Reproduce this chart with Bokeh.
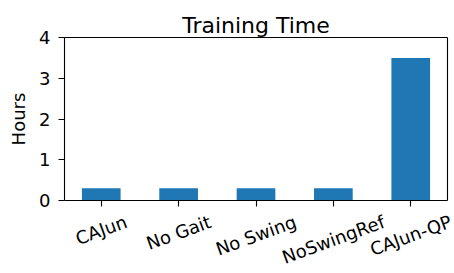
import math
from bokeh.plotting import figure
from bokeh.models import Range1d, FixedTicker, ColumnDataSource, LabelSet, Label, LinearAxis
from bokeh.core.properties import value
from bokeh.embed import file_html
from bokeh.resources import INLINE

# ---- data ----
categories = ["CAJun", "No Gait", "No Swing", "NoSwingRef", "CAJun-QP"]
hours = [0.3, 0.3, 0.3, 0.3, 3.5]
y_ticks = [0, 1, 2, 3, 4]
title_text = "Training Time"
y_label = "Hours"

# ---- style / layout ----
FONT = "DejaVu Sans"
TICK_FS = 18
TITLE_FS = 22
BAR_COLOR = "#1f77b4"
ANGLE_DEG = 20
LW = 1.1
W, H = 454, 272
BOX_L, BOX_R, BOX_T, BOX_B = 64, 447, 37, 200   # axes box in page pixels
XLIM = (-0.475, len(categories) - 1 + 0.475)
YLIM = (0, 4)

ppx = (BOX_R - BOX_L) / (XLIM[1] - XLIM[0])
ppy = (BOX_B - BOX_T) / (YLIM[1] - YLIM[0])
x_range = Range1d(XLIM[0] - BOX_L / ppx, XLIM[0] + (W - BOX_L) / ppx)
y_range = Range1d(YLIM[0] - (H - BOX_B) / ppy, YLIM[1] + BOX_T / ppy)

# approximate DejaVu Sans advance widths (em) for matplotlib-like label centering
EM = {"C": 0.698, "A": 0.684, "J": 0.295, "u": 0.634, "n": 0.634, " ": 0.318,
      "N": 0.748, "o": 0.612, "G": 0.775, "a": 0.613, "i": 0.278, "t": 0.392,
      "S": 0.635, "w": 0.818, "g": 0.635, "R": 0.695, "e": 0.615, "f": 0.352,
      "-": 0.361, "Q": 0.787, "P": 0.603}

xs = list(range(len(categories)))

p = figure(width=W, height=H, output_backend="svg", toolbar_location=None,
           x_range=x_range, y_range=y_range, title=None,
           min_border_left=0, min_border_right=0, min_border_top=0, min_border_bottom=0)
p.outline_line_color = None
p.grid.visible = False

p.vbar(x=xs, top=hours, width=0.5, color=BAR_COLOR, line_color=None)

# left spine + y ticks
ya = p.yaxis[0]
ya.fixed_location = XLIM[0]
ya.bounds = YLIM
ya.ticker = FixedTicker(ticks=y_ticks)
ya.axis_line_width = LW
ya.major_tick_line_width = LW
ya.major_tick_out = 6
ya.major_tick_in = 0
ya.minor_tick_line_color = None
ya.major_label_text_font = FONT
ya.major_label_text_font_size = f"{TICK_FS}px"
ya.major_label_text_color = "black"
ya.major_label_standoff = 8
ya.axis_label = y_label
ya.axis_label_text_font = FONT
ya.axis_label_text_font_size = f"{TICK_FS}px"
ya.axis_label_text_font_style = "normal"
ya.axis_label_text_color = "black"
ya.axis_label_standoff = 7

# bottom spine + x ticks (tick marks only; labels drawn centered below)
xa = p.xaxis[0]
xa.fixed_location = YLIM[0]
xa.bounds = XLIM
xa.ticker = FixedTicker(ticks=[], minor_ticks=xs)
xa.axis_line_width = LW
xa.minor_tick_line_width = LW
xa.minor_tick_line_color = "black"
xa.minor_tick_out = 6
xa.minor_tick_in = 0
xa.major_tick_line_color = None

# top and right spines
top = LinearAxis(fixed_location=YLIM[1], bounds=XLIM, ticker=FixedTicker(ticks=[]),
                 axis_line_width=LW, major_tick_line_color=None, minor_tick_line_color=None)
right = LinearAxis(fixed_location=XLIM[1], bounds=YLIM, ticker=FixedTicker(ticks=[]),
                   axis_line_width=LW, major_tick_line_color=None, minor_tick_line_color=None)
p.add_layout(top, "above")
p.add_layout(right, "right")

# rotated category labels, centred under ticks (rotated bbox top at a fixed pad)
th = math.radians(ANGLE_DEG)
pad = 10.5
h = TICK_FS * 1.17
offs = []
for c in categories:
    w = sum(EM.get(ch, 0.6) for ch in c) * TICK_FS
    offs.append(-(pad + (w * math.sin(th) + h * math.cos(th)) / 2))

src = ColumnDataSource(dict(x=xs, y=[YLIM[0]] * len(xs), text=categories, yo=offs))
p.add_layout(LabelSet(x="x", y="y", text="text", source=src, y_offset="yo",
                      angle=th, text_align="center", text_baseline="middle",
                      text_font=value(FONT), text_font_size=value(f"{TICK_FS}px"),
                      text_color="black"))

# title, centred over the axes box
p.add_layout(Label(x=(XLIM[0] + XLIM[1]) / 2, y=YLIM[1], y_offset=12.5, text=title_text,
                   text_align="center", text_baseline="alphabetic",
                   text_font=FONT, text_font_size=f"{TITLE_FS}px", text_color="black"))

open("out.html", "w").write(file_html(p, INLINE))
